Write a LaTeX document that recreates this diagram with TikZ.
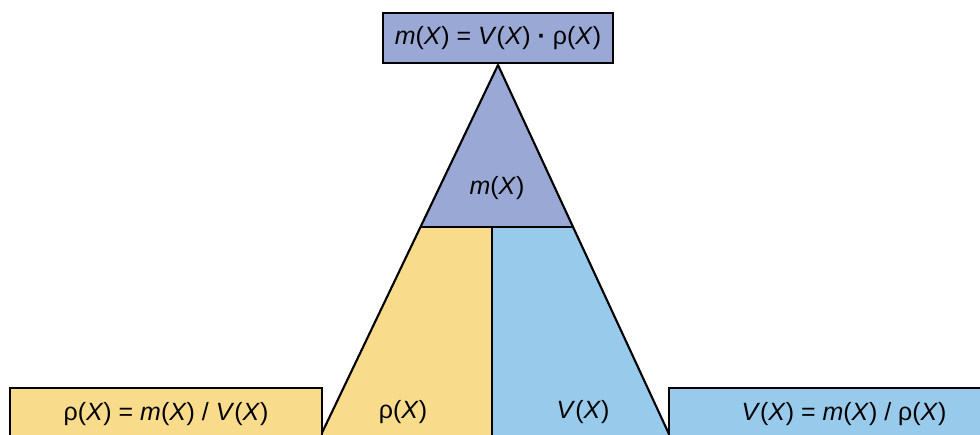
\documentclass[tikz,border=0pt]{standalone}
\usepackage{fontspec}
\setmainfont{Liberation Sans}
\usepackage{tikz}
\usetikzlibrary{calc}

\definecolor{massblue}{HTML}{99A8D4}
\definecolor{densyellow}{HTML}{F9DB8C}
\definecolor{volblue}{HTML}{98CAEC}

\begin{document}
\begin{tikzpicture}[x=0.02cm,y=-0.02cm,
    edge/.style={line width=1.2pt,line join=round},
    formula/.style={draw,line width=1.2pt,minimum height=52*0.02cm,font=\fontsize{14.2}{16}\selectfont,inner sep=0pt},
    part/.style={font=\fontsize{14.2}{16}\selectfont}]

\useasboundingbox (0,0) rectangle (980,435);
\clip (0,0) rectangle (980,435);

% Triangle corners
\coordinate (top) at (498,65);
\coordinate (ml) at (421,227);
\coordinate (mr) at (573,227);
\coordinate (mid) at (492,227);
\coordinate (bl) at (309,460);
\coordinate (br) at (681,460);
\coordinate (bm) at (492,460);

% Pieces
\fill[massblue] (top) -- (ml) -- (mr) -- cycle;
\fill[densyellow] (ml) -- (mid) -- (bm) -- (bl) -- cycle;
\fill[volblue] (mid) -- (mr) -- (br) -- (bm) -- cycle;

% Outline
\draw[edge] (bl) -- (top) -- (br);
\draw[edge] (ml) -- (mr);
\draw[edge] (mid) -- (bm);

% Labels
\node[part] (mass) at (497,188) {\textit{m}(\textit{X})};
\node[part] (dens) at (403,412) {ρ(\textit{X})};
\node[part] (vol) at (583,412) {\textit{V}(\textit{X})};

% Formulas
\node[formula,fill=massblue,minimum width=230*0.02cm,minimum height=50*0.02cm] (mform) at (498,38)
    {\textit{m}(\textit{X}) = \textit{V}(\textit{X}) \textbf{·} ρ(\textit{X})};
\node[formula,fill=densyellow,minimum width=312*0.02cm] (dform) at (166,414)
    {ρ(\textit{X}) = \textit{m}(\textit{X}) / \textit{V}(\textit{X})};
\node[formula,fill=volblue,minimum width=350*0.02cm] (vform) at (844,414)
    {\textit{V}(\textit{X}) = \textit{m}(\textit{X}) / ρ(\textit{X})};

\end{tikzpicture}
\end{document}
